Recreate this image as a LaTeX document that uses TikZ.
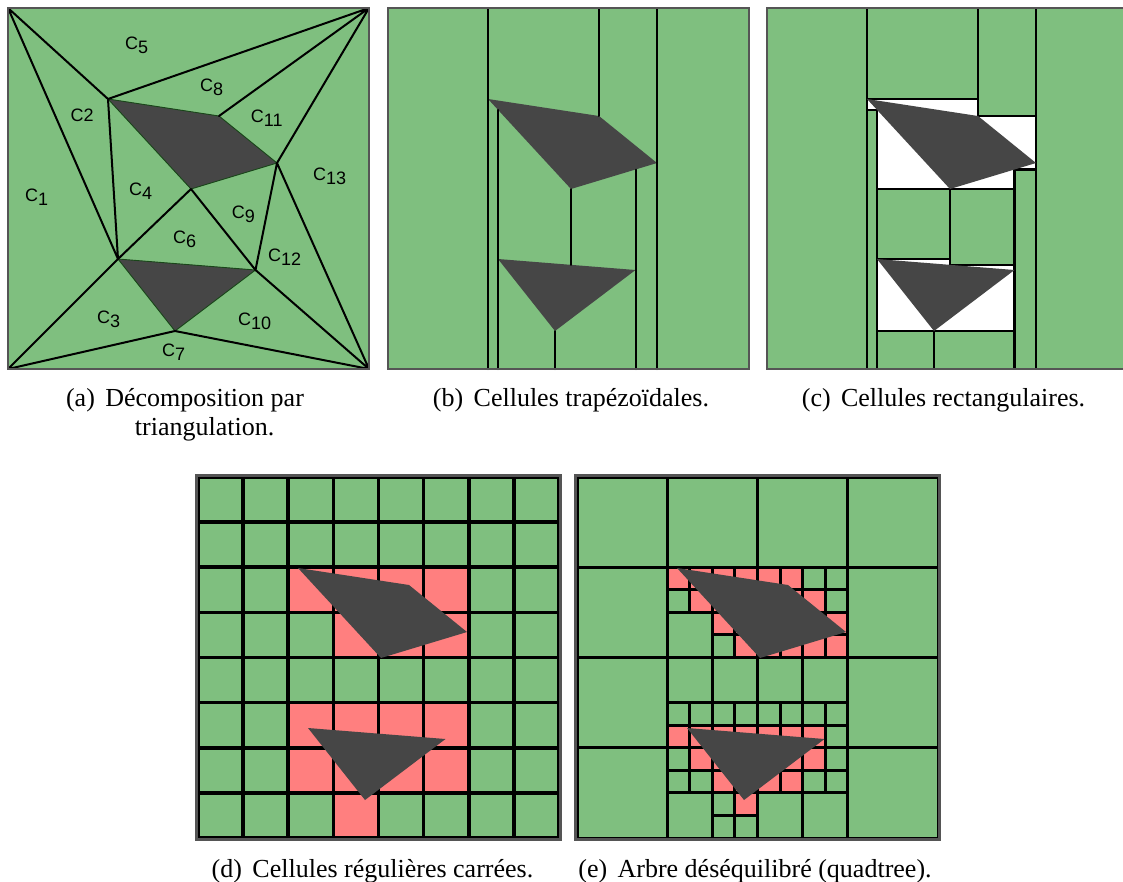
\documentclass[tikz,border=0pt]{standalone}
\usepackage{fontspec}
\setmainfont{Liberation Serif}
\newfontfamily\labelfont{Liberation Sans}
\usetikzlibrary{positioning}

\definecolor{freegreen}{RGB}{127,191,127}
\definecolor{hitred}{RGB}{255,127,127}
\definecolor{obstgray}{RGB}{70,70,70}
\definecolor{framegray}{RGB}{85,85,85}
\definecolor{obstedge}{RGB}{25,70,25}

% lowered index of the cell names in (a)
\newcommand{\sub}[1]{\raisebox{-4pt}{#1}}
% the two obstacles, same place in every panel
\newcommand{\setobstacles}{%
  \coordinate (A) at (100,91);  \coordinate (B) at (211,108);
  \coordinate (C) at (269,155); \coordinate (D) at (183,181);
  \coordinate (E) at (110,251); \coordinate (F) at (247.5,262);
  \coordinate (G) at (167,323);
  \coordinate (NW) at (0,0);   \coordinate (NE) at (361,0);
  \coordinate (SW) at (0,361); \coordinate (SE) at (361,361)}
\newcommand{\drawobstacles}{%
  \fill[obstacle] (A) -- (B) -- (C) -- (D) -- cycle;
  \fill[obstacle] (E) -- (F) -- (G) -- cycle}

\begin{document}
\begin{tikzpicture}[x=1pt,y=-1pt]
\tikzset{
  frame/.style={draw=framegray,line width=2.2pt},
  obstacle/.style={fill=obstgray},
  obstline/.style={draw=obstedge,line width=0.9pt},
  triedge/.style={line width=2pt,line cap=round},
  rcell/.style={fill=freegreen,draw=black,line width=2.3pt},
  gcell/.style={fill=freegreen,draw=black,line width=3.6pt},
  gred/.style={fill=hitred,draw=black,line width=3.6pt},
  qcell/.style={fill=freegreen,draw=black,line width=3pt},
  qhit/.style={fill=hitred,draw=black,line width=3pt},
  cname/.style={anchor=base west,inner sep=0pt,font=\labelfont\fontsize{18}{18}\selectfont},
  caption/.style={anchor=base,inner sep=0pt,font=\fontsize{26}{29.5}\selectfont}
}
\useasboundingbox (0,0) rectangle (1123,881);

% (a) triangulation
\begin{scope}[shift={(8,8)}]
\setobstacles;
\fill[freegreen] (NW) rectangle (SE);
\drawobstacles;
\draw[obstline] (A) -- (B) -- (C) -- (D) -- cycle (E) -- (F) -- (G) -- cycle;
\draw[triedge] (NW) -- (A) (NW) -- (E) (NE) -- (A) (NE) -- (B) (NE) -- (C)
  (A) -- (E) (D) -- (E) (D) -- (F) (C) -- (F) (C) -- (SE) (F) -- (SE)
  (SW) -- (E) (SW) -- (G) (G) -- (SE);
\draw[frame] (NW) rectangle (SE);
\node[cname] (c1) at (17,193.7) {C\sub{1}};
\node[cname] (c2) at (62.5,113) {C2};
\node[cname] (c3) at (89,315.3) {C\sub{3}};
\node[cname] (c4) at (121,187) {C\sub{4}};
\node[cname] (c5) at (117,41) {C\sub{5}};
\node[cname] (c6) at (165,235.3) {C\sub{6}};
\node[cname] (c7) at (154,348.7) {C\sub{7}};
\node[cname] (c8) at (192,83.7) {C\sub{8}};
\node[cname] (c9) at (223.7,210.3) {C\sub{9}};
\node[cname] (c10) at (230,317) {C\sub{10}};
\node[cname] (c11) at (242.7,114.7) {C\sub{11}};
\node[cname] (c12) at (260,253.7) {C\sub{12}};
\node[cname] (c13) at (305,172) {C\sub{13}};
\end{scope}

% (b) trapezoidal cells
\begin{scope}[shift={(388,8)}]
\setobstacles;
\coordinate (P1) at (110,101.8); \coordinate (P2) at (183,256.8);
\coordinate (P3) at (247.5,161.5);
\fill[freegreen] (NW) rectangle (SE);
\drawobstacles;
\draw[triedge] (A|-NW) -- (A|-SW) (P1) -- (P1|-SW) (D) -- (P2)
  (G) -- (G|-SW) (B|-NW) -- (B) (P3) -- (P3|-SW) (C|-NW) -- (C|-SW);
\draw[frame] (NW) rectangle (SE);
\end{scope}

% (c) rectangular cells
\begin{scope}[shift={(767,8)}]
\setobstacles;
\coordinate (P1) at (110,101.8); \coordinate (P2) at (183,256.8);
\coordinate (P3) at (247.5,161.5);
\fill[white] (NW) rectangle (SE);
\draw[rcell] (NW) rectangle (A|-SW);
\draw[rcell] (A|-NW) rectangle (B|-A);
\draw[rcell] (B|-NW) rectangle (C|-B);
\draw[rcell] (C|-NW) rectangle (SE);
\draw[rcell] (A|-P1) rectangle (P1|-SW);
\draw[rcell] (P3) rectangle (C|-SW);
\draw[rcell] (E|-D) rectangle (D|-E);
\draw[rcell] (D) rectangle (P3|-P2);
\draw[rcell] (E|-G) rectangle (G|-SW);
\draw[rcell] (G) rectangle (P3|-SW);
\drawobstacles;
\draw[frame] (NW) rectangle (SE);
\end{scope}

% (d) regular square cells
\begin{scope}[shift={(198,477)}]
\setobstacles;
\foreach \i in {0,...,7}
  \foreach \j in {0,...,7}
    \draw[gcell] (\i*45.125,\j*45.125) rectangle ++(45.125,45.125);
\foreach \i/\j in {2/2,3/2,4/2,5/2,3/3,4/3,5/3,2/5,3/5,4/5,5/5,2/6,3/6,4/6,5/6,3/7}
  \draw[gred] (\i*45.125,\j*45.125) rectangle ++(45.125,45.125);
\drawobstacles;
\draw[frame] (-1.5,-1.5) rectangle (362.5,362.5);
\end{scope}

% (e) unbalanced quadtree
\begin{scope}[shift={(577,477)}]
\setobstacles;
\foreach \i/\j in {0/0,1/0,2/0,3/0,0/1,3/1,0/2,3/2,0/3,3/3}
  \draw[qcell] (\i*90.25,\j*90.25) rectangle ++(90.25,90.25);
\foreach \i/\j in {2/3,2/4,3/4,2/7,4/4,5/4,4/7,5/7}
  \draw[qcell] (\i*45.125,\j*45.125) rectangle ++(45.125,45.125);
\foreach \i/\j in {10/4,11/4,4/5,11/5,6/7,4/10,5/10,6/10,7/10,8/10,9/10,10/10,11/10,
    11/11,4/12,11/12,4/13,5/13,10/13,11/13,6/14,6/15,7/15}
  \draw[qcell] (\i*22.5625,\j*22.5625) rectangle ++(22.5625,22.5625);
\foreach \i/\j in {4/4,5/4,6/4,7/4,8/4,9/4,5/5,6/5,7/5,8/5,9/5,10/5,
    6/6,7/6,8/6,9/6,10/6,11/6,7/7,8/7,9/7,10/7,11/7,
    4/11,5/11,6/11,7/11,8/11,9/11,10/11,5/12,6/12,7/12,8/12,9/12,10/12,
    6/13,7/13,8/13,9/13,7/14}
  \draw[qhit] (\i*22.5625,\j*22.5625) rectangle ++(22.5625,22.5625);
\drawobstacles;
\draw[frame] (-1.5,-1.5) rectangle (362.5,362.5);
\end{scope}

% captions
\node[caption] (capa) at (185,406) {\begin{tabular}[t]{@{}l@{\hspace{0.4em}}c@{}}(a)&Décomposition par\\&triangulation.\end{tabular}};
\node[caption] (capb) at (571,406) {(b)\hspace{0.4em}Cellules trapézoïdales.};
\node[caption] (capc) at (943.5,406) {(c)\hspace{0.4em}Cellules rectangulaires.};
\node[caption] (capd) at (372.5,877) {(d)\hspace{0.4em}Cellules régulières carrées.};
\node[caption] (cape) at (755,877) {(e)\hspace{0.4em}Arbre déséquilibré (quadtree).};
\end{tikzpicture}
\end{document}
